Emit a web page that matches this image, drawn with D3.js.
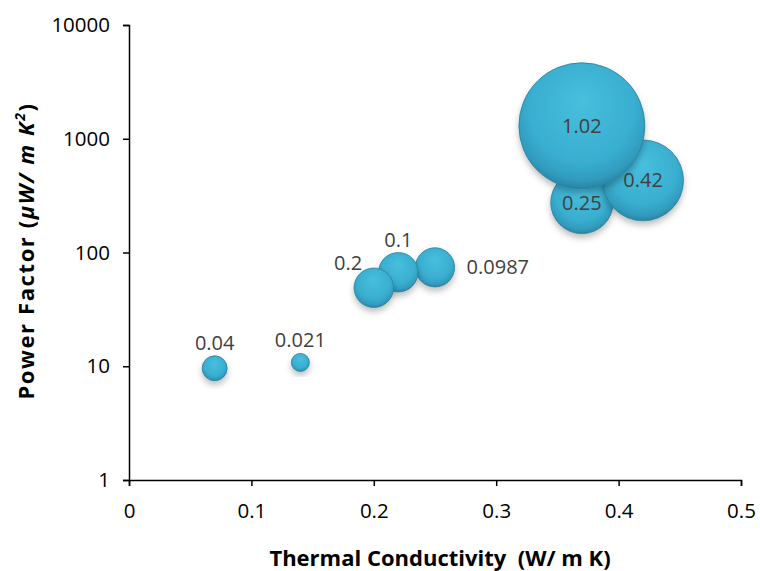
<!DOCTYPE html>
<html><head><meta charset="utf-8">
<script src="https://cdn.jsdelivr.net/npm/d3@7"></script>
<style>body{margin:0;background:#fff}svg{display:block}</style>
</head><body>
<svg id="c" width="760" height="571"></svg>
<script>
// Data (ordered so larger ZT draws on top in each cluster)
const conductivity = [0.07, 0.14, 0.25, 0.22, 0.20, 0.37, 0.42, 0.37];
const powerFactor  = [9.6, 10.8, 74, 67, 49, 275, 430, 1300];
const bubbleSize   = [0.04, 0.021, 0.0987, 0.1, 0.1, 0.25, 0.42, 1.02];
const ztLabels     = ["0.04", "0.021", "0.0987", "0.1", "0.2", "0.25", "0.42", "1.02"];
const labelPos     = ["above", "above", "right", "above", "left", "center", "center", "center"];
const xTicks = [0, 0.1, 0.2, 0.3, 0.4, 0.5];
const yTicks = [1, 10, 100, 1000, 10000];

const svg = d3.select("#c");
const font = "'Open Sans', sans-serif";
const x = d3.scaleLinear().domain([0, 0.5]).range([129, 741]);
const y = d3.scaleLog().domain([1, 10000]).range([480, 25]);
const r = d3.scaleSqrt().domain([0, 1.02]).range([0, 63]);

const defs = svg.append("defs");
const g = defs.append("radialGradient").attr("id", "bub")
  .attr("cx", "50%").attr("cy", "40%").attr("r", "60%").attr("fx", "50%").attr("fy", "30%");
g.append("stop").attr("offset", "0%").attr("stop-color", "#48bfdd");
g.append("stop").attr("offset", "70%").attr("stop-color", "#39aed0");
g.append("stop").attr("offset", "90%").attr("stop-color", "#319bbd");
g.append("stop").attr("offset", "100%").attr("stop-color", "#2a84a3");
const f = defs.append("filter").attr("id", "sh").attr("x", "-30%").attr("y", "-30%").attr("width", "160%").attr("height", "160%");
f.append("feDropShadow").attr("dx", 0).attr("dy", 4).attr("stdDeviation", 3).attr("flood-color", "#000").attr("flood-opacity", 0.25);

// axes
const xAxis = svg.append("g").attr("transform", "translate(0,480)")
  .call(d3.axisBottom(x).tickValues(xTicks).tickFormat(d3.format("")).tickSizeOuter(0).tickSize(6).tickPadding(17));
const yAxis = svg.append("g").attr("transform", "translate(129,0)")
  .call(d3.axisLeft(y).tickValues(yTicks).tickFormat(d => String(d)).tickSizeOuter(0).tickSize(6).tickPadding(13));
[xAxis, yAxis].forEach(a => {
  a.select(".domain").attr("stroke", "#000").attr("stroke-width", 1.5);
  a.selectAll(".tick line").attr("stroke", "#000").attr("stroke-width", 1.5);
  a.selectAll(".tick text").attr("font-family", font).attr("font-size", 20.5).attr("fill", "#000");
});

// bubbles
const idx = d3.range(conductivity.length);
svg.append("g").selectAll("circle").data(idx).join("circle")
  .attr("cx", i => x(conductivity[i])).attr("cy", i => y(powerFactor[i]))
  .attr("r", i => r(bubbleSize[i]))
  .attr("fill", "url(#bub)").attr("stroke", "#2a7f9a").attr("stroke-width", 0.8)
  .attr("filter", "url(#sh)");

// labels
svg.append("g").selectAll("text").data(idx).join("text")
  .attr("font-family", font).attr("font-size", 20).attr("fill", "#404040")
  .attr("x", i => {
    const cx = x(conductivity[i]), rr = r(bubbleSize[i]);
    if (labelPos[i] === "right") return cx + rr + 12;
    if (labelPos[i] === "left") return cx - rr - 6;
    return cx;
  })
  .attr("y", i => {
    const cy = y(powerFactor[i]), rr = r(bubbleSize[i]);
    if (labelPos[i] === "above") return cy - rr - 6;
    if (labelPos[i] === "left") return cy - rr + 2;
    return cy + 7;
  })
  .attr("text-anchor", i => labelPos[i] === "right" ? "start" : "middle")
  .text(i => ztLabels[i]);

// axis titles
svg.append("text").attr("x", 440).attr("y", 566).attr("text-anchor", "middle")
  .style("white-space", "pre")
  .attr("font-family", font).attr("font-weight", "bold").attr("font-size", 22)
  .text("Thermal Conductivity  (W/ m K)");
const yt = svg.append("text").attr("transform", "translate(34,251) rotate(-90)").attr("text-anchor", "middle")
  .attr("font-family", font).attr("font-weight", "bold").attr("font-size", 22)
  .attr("letter-spacing", 1.6);
yt.append("tspan").text("Power Factor (");
yt.append("tspan").attr("font-style", "italic").text("μW/ m K");
yt.append("tspan").attr("font-style", "italic").attr("font-size", 14).attr("dy", -9).text("2");
yt.append("tspan").attr("dy", 9).text(")");
</script>
</body></html>
